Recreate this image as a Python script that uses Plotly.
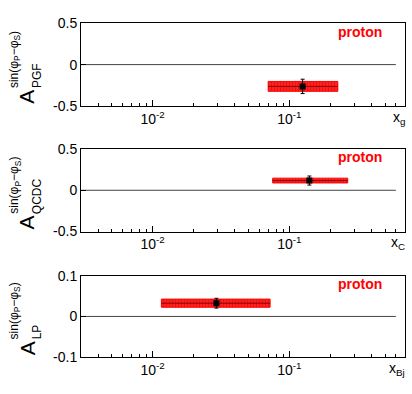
import numpy as np
import plotly.graph_objects as go

W, H = 412, 394

# one panel per hard process: (x variable, subscript of A)
panels = ["PGF", "QCDC", "LP"]
x_titles = ["g", "C", "Bj"]

# mean x of the sample and its x span (red band)
x_mean = [0.125, 0.14, 0.0293]
x_low = [0.070, 0.0755, 0.0116]
x_high = [0.226, 0.267, 0.0723]

# asymmetry, statistical and systematic errors
asym = [-0.264, 0.118, 0.0325]
stat_err = [0.087, 0.055, 0.012]
syst_err = [0.060, 0.029, 0.010]

y_ranges = [[-0.5, 0.5], [-0.5, 0.5], [-0.1, 0.1]]
y_ticks = [[-0.5, 0, 0.5], [-0.5, 0, 0.5], [-0.1, 0, 0.1]]
y_ticktext = [["-0.5", "0", "0.5"], ["-0.5", "0", "0.5"], ["-0.1", "0", "0.1"]]

x_range = [0.003, 0.7]
x_ticks = [0.01, 0.1]
x_ticktext = ["10<sup>-2</sup>", "10<sup>-1</sup>"]
x_minor = [0.003, 0.004, 0.005, 0.006, 0.007, 0.008, 0.009,
           0.02, 0.03, 0.04, 0.05, 0.06, 0.07, 0.08, 0.09,
           0.2, 0.3, 0.4, 0.5, 0.6]
zero_line_x = [0.003, 0.6]

# frame positions in pixels (top, bottom) of each panel
frame_left, frame_right = 81, 405
frame_tb = [(16, 102), (147, 233), (279, 364)]

FONT = "Liberation Sans, Arial, sans-serif"

fig = go.Figure()
annotations = []


def px(x):
    return x / W


def py(y):
    return 1 - y / H


for i, name in enumerate(panels):
    n = "" if i == 0 else str(i + 1)
    xa, ya = "x" + n, "y" + n
    top, bot = frame_tb[i]

    # zero line
    fig.add_trace(go.Scatter(
        x=zero_line_x, y=[0, 0], mode="lines",
        line=dict(color="#444444", width=1),
        xaxis=xa, yaxis=ya, hoverinfo="skip"))

    # systematic band
    lo, hi = x_low[i], x_high[i]
    v, s = asym[i], syst_err[i]
    fig.add_trace(go.Scatter(
        x=[lo, hi, hi, lo, lo], y=[v - s, v - s, v + s, v + s, v - s],
        mode="lines", fill="toself", fillcolor="#ff1a1a",
        fillpattern=dict(shape="|", fgcolor="#c00000", bgcolor="#ff2020",
                         size=3, solidity=0.25),
        line=dict(color="#ff0000", width=1),
        xaxis=xa, yaxis=ya, hoverinfo="skip"))
    fig.add_trace(go.Scatter(
        x=[lo, hi], y=[v, v], mode="lines",
        line=dict(color="#8b0000", width=1),
        xaxis=xa, yaxis=ya, hoverinfo="skip"))

    # data point
    fig.add_trace(go.Scatter(
        x=[x_mean[i]], y=[v], mode="markers",
        marker=dict(symbol="square", size=6, color="black"),
        error_y=dict(type="data", array=[stat_err[i]], color="black",
                     thickness=1, width=2),
        xaxis=xa, yaxis=ya))

    fig.update_layout({
        "xaxis" + n: dict(
            type="log", range=[np.log10(x_range[0]), np.log10(x_range[1])],
            domain=[px(frame_left), px(frame_right)], anchor=ya,
            tickmode="array", tickvals=x_ticks, ticktext=x_ticktext,
            ticks="inside", ticklen=6, tickcolor="black",
            minor=dict(tickmode="array", tickvals=x_minor, ticks="inside",
                       ticklen=3, tickcolor="black"),
            showline=True, mirror=True, linecolor="black", linewidth=1,
            showgrid=False, zeroline=False,
            tickfont=dict(family=FONT, size=14, color="black")),
        "yaxis" + n: dict(
            range=y_ranges[i], domain=[py(bot), py(top)], anchor=xa,
            tickmode="array", tickvals=y_ticks[i], ticktext=y_ticktext[i],
            ticks="inside", ticklen=5, tickcolor="black",
            showline=True, mirror=True, linecolor="black", linewidth=1,
            showgrid=False, zeroline=False,
            tickfont=dict(family=FONT, size=14, color="black")),
    })

    # y title: A with stacked super/subscript
    annotations += [
        dict(text="A", x=px(27), y=py(bot), xanchor="center", yanchor="bottom",
             textangle=-90, font=dict(family=FONT, size=21, color="black")),
        dict(text=name, x=px(37), y=py(bot - 16), xanchor="center",
             yanchor="bottom", textangle=-90,
             font=dict(family=FONT, size=12, color="black")),
        dict(text="sin(φ<sub>P</sub>−φ<sub>S</sub>)", x=px(15),
             y=py(bot - 17), xanchor="center", yanchor="bottom",
             textangle=-90, font=dict(family=FONT, size=12, color="black")),
        dict(text="x<sub>" + x_titles[i] + "</sub>", x=px(407),
             y=py(bot + 1), xanchor="right", yanchor="top",
             font=dict(family=FONT, size=14, color="black")),
        dict(text="<b>proton</b>", x=px(360), y=py(top + 8.5),
             xanchor="center", yanchor="middle",
             font=dict(family=FONT, size=14, color="red")),
    ]

for a in annotations:
    a.update(xref="paper", yref="paper", showarrow=False)

fig.update_layout(
    width=W, height=H, margin=dict(l=0, r=0, t=0, b=0),
    paper_bgcolor="white", plot_bgcolor="white",
    showlegend=False, annotations=annotations)

fig.write_html("out.html", config={"displayModeBar": False},
               post_script="document.body.style.margin='0';")
